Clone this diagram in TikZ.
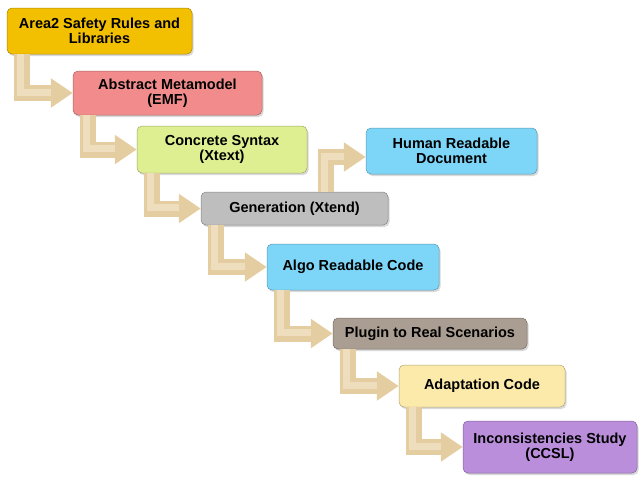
\documentclass[tikz,border=0pt]{standalone}
\usepackage{fontspec}
\setmainfont{Liberation Sans}
\usetikzlibrary{arrows.meta,shadows}
\definecolor{boxgold}{RGB}{242,192,0}
\definecolor{boxpink}{RGB}{242,140,140}
\definecolor{boxgreen}{RGB}{222,239,146}
\definecolor{boxblue}{RGB}{125,214,248}
\definecolor{boxgray}{RGB}{190,190,190}
\definecolor{boxtaupe}{RGB}{170,157,146}
\definecolor{boxcream}{RGB}{252,234,170}
\definecolor{boxpurple}{RGB}{187,142,220}
\definecolor{arrtan}{RGB}{228,205,160}
\definecolor{arrlight}{RGB}{238,222,190}
\begin{document}
\begin{tikzpicture}[x=1pt,y=1pt,
  box/.style={draw=#1!70!black, line width=0.5pt, fill=#1, rounded corners=5pt,
    inner sep=0pt, align=center, font=\bfseries\fontsize{14.5}{15}\selectfont,
    drop shadow={opacity=0.3,shadow xshift=1.5pt,shadow yshift=-2pt}},
  steparrow/.style={draw=arrtan, line width=16pt, -{Triangle[length=22pt,width=28pt]}},
  steplight/.style={draw=arrlight, line width=7pt, shorten >=22pt}]
\useasboundingbox (0,0) rectangle (639,-477);
\node[box=boxgold, minimum width=185pt, minimum height=46pt] (rules) at (99.5,-31) {Area2 Safety Rules and\\Libraries};
\node[box=boxpink, minimum width=189pt, minimum height=44pt] (emf) at (167.5,-93) {Abstract Metamodel\\(EMF)};
\node[box=boxgreen, minimum width=170pt, minimum height=47pt] (xtext) at (222,-149.5) {Concrete Syntax\\(Xtext)};
\node[box=boxblue, minimum width=171pt, minimum height=46pt] (human) at (451.5,-151) {Human Readable\\Document};
\node[box=boxgray, minimum width=187pt, minimum height=33pt] (xtend) at (294.5,-208.5) {Generation (Xtend)};
\node[box=boxblue, minimum width=172pt, minimum height=46pt] (algo) at (353,-267) {Algo Readable Code};
\node[box=boxtaupe, minimum width=194pt, minimum height=31pt] (plugin) at (430,-333.5) {Plugin to Real Scenarios};
\node[box=boxcream, minimum width=166pt, minimum height=42pt] (adapt) at (482,-386) {Adaptation Code};
\node[box=boxpurple, minimum width=174pt, minimum height=52pt] (ccsl) at (550,-447) {Inconsistencies Study\\(CCSL)};
\foreach \a/\b in {rules/emf, emf/xtext, xtext/xtend, xtend/algo, algo/plugin, plugin/adapt, adapt/ccsl} {
  \draw[steparrow] ([xshift=15pt]\a.south west) |- (\b.west);
  \draw[steplight] ([xshift=14pt]\a.south west) |- ([yshift=1pt]\b.west);
}
\draw[steparrow] ([xshift=125pt]xtend.north west) |- ([yshift=-6pt]human.west);
\draw[steplight] ([xshift=124pt]xtend.north west) |- ([yshift=-5pt]human.west);
\end{tikzpicture}
\end{document}
